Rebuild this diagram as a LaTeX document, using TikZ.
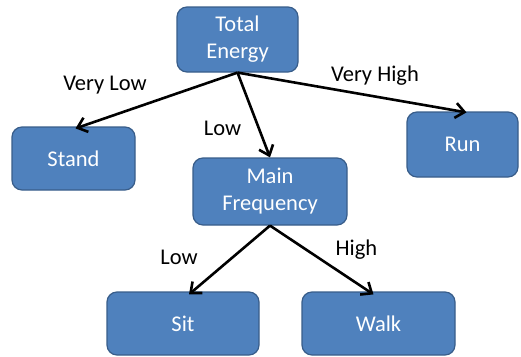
\documentclass[tikz,border=0pt]{standalone}
\usepackage{fontspec}
\setmainfont{Carlito}
\usetikzlibrary{arrows.meta}
\definecolor{boxfill}{HTML}{4F81BD}
\definecolor{boxline}{HTML}{385D8A}
\begin{document}
\begin{tikzpicture}[x=1pt,y=-1pt,
  box/.style={draw=boxline, line width=1.2pt, fill=boxfill, rounded corners=10pt,
    text=white, align=center, inner sep=0pt,
    font=\fontsize{22.5}{27}\selectfont},
  lbl/.style={text=black, inner sep=0pt, font=\fontsize{22.5}{27}\selectfont},
  conn/.style={line width=2.6pt, -{Straight Barb[length=9pt,width=15pt,line width=2.6pt]}}
]
\useasboundingbox (0,0) rectangle (521,356);
\node[box, minimum width=121pt, minimum height=65pt] (te) at (237.5,39.5) {Total\\Energy};
\node[box, minimum width=123pt, minimum height=63pt] (stand) at (73.5,158.5) {Stand};
\node[box, minimum width=154pt, minimum height=67pt] (mf) at (270,191.5) {Main\\Frequency};
\node[box, minimum width=111pt, minimum height=65pt] (run) at (462.5,144.5) {Run};
\node[box, minimum width=152pt, minimum height=63pt] (sit) at (183,323.5) {Sit};
\node[box, minimum width=153pt, minimum height=63pt] (walk) at (378.5,323.5) {Walk};

\draw[conn] (te.south) -- ([xshift=2pt,yshift=-2pt]stand.north);
\draw[conn] (te.south) -- (mf.north);
\draw[conn] (te.south) -- ([xshift=4pt,yshift=-1pt]run.north);
\draw[conn] (mf.south) -- ([xshift=6pt,yshift=-3pt]sit.north);
\draw[conn] (mf.south) -- ([xshift=-5pt,yshift=-3pt]walk.north);

\node[lbl] (l1) at (105,85) {Very Low};
\node[lbl] (l2) at (375,76) {Very High};
\node[lbl] (l3) at (222.5,128) {Low};
\node[lbl] (l4) at (179,257) {Low};
\node[lbl] (l5) at (356.5,250) {High};
\end{tikzpicture}
\end{document}
